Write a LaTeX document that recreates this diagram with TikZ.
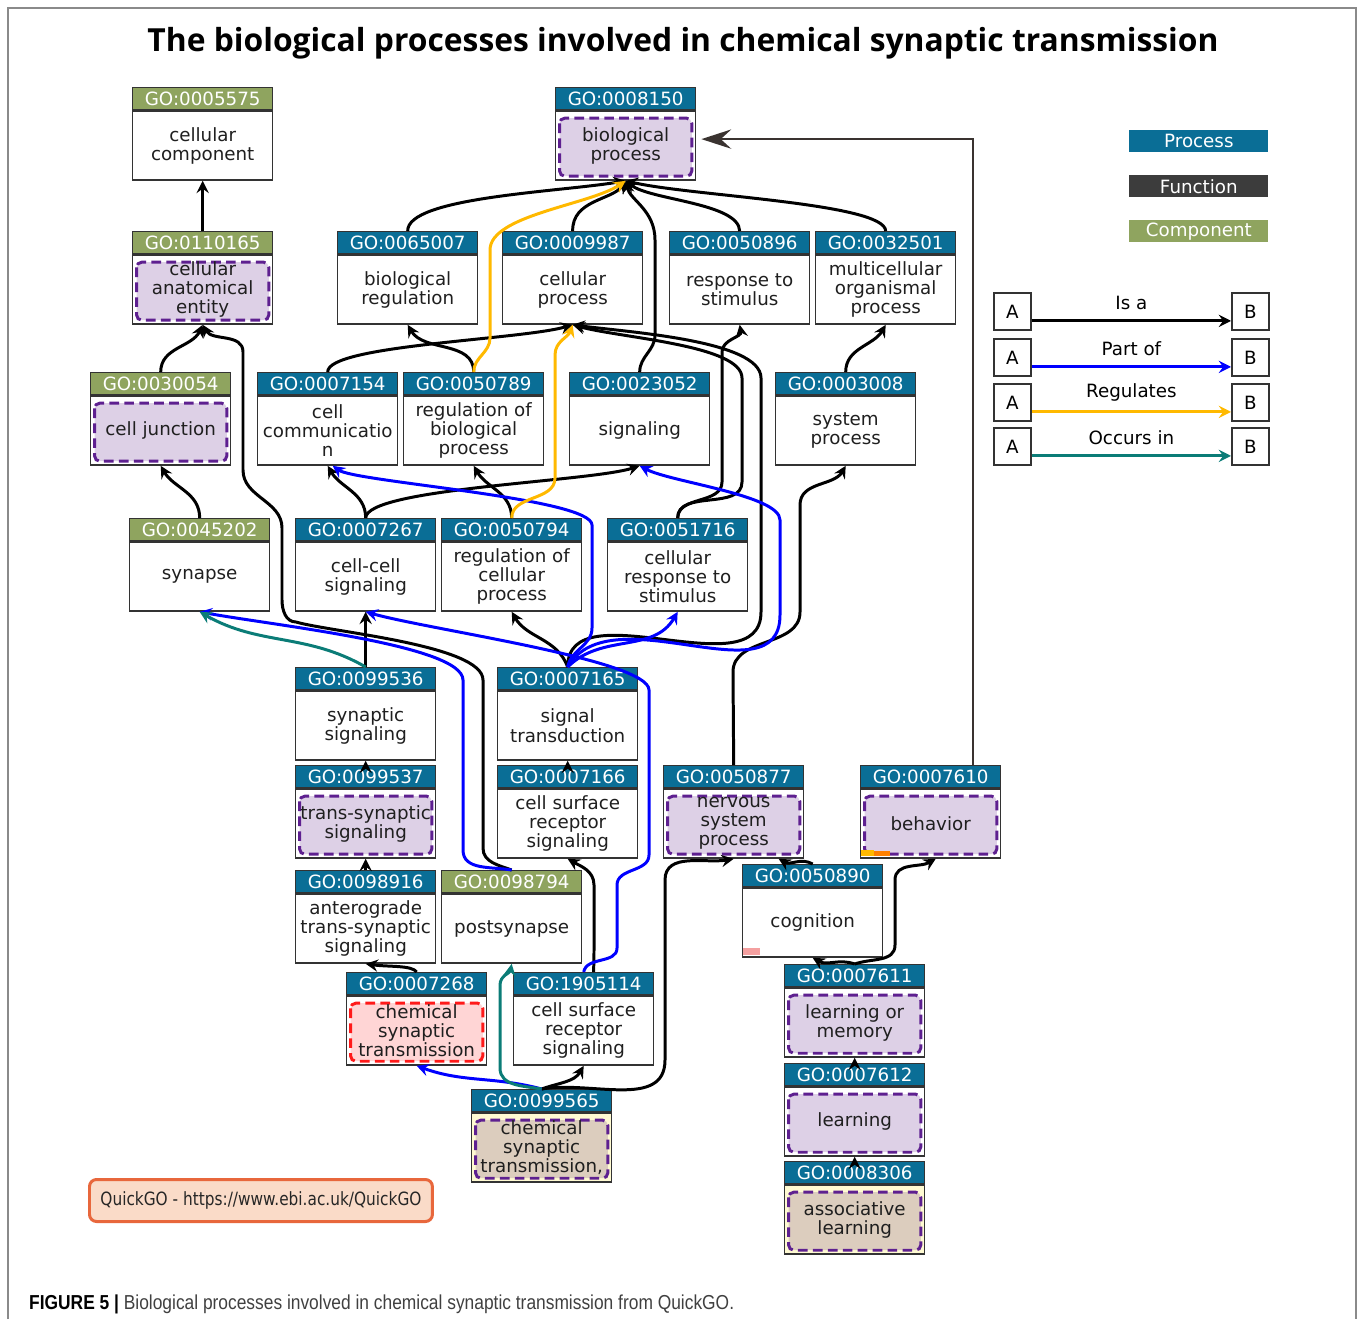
\documentclass[tikz,border=0pt]{standalone}
\usepackage{fontspec}
\setmainfont{DejaVu Sans}
\newfontfamily\titlefont{Open Sans}
\newfontfamily\capfont{Liberation Sans}
\usetikzlibrary{arrows.meta, positioning}
\definecolor{cproc}{HTML}{0A6E96}
\definecolor{ccomp}{HTML}{8FA45F}
\definecolor{cfunc}{HTML}{3C3C3C}
\definecolor{cline}{HTML}{333333}
\definecolor{cpurple}{HTML}{5E2090}
\definecolor{clav}{HTML}{DDD0E6}
\definecolor{cred}{HTML}{FF1A1A}
\definecolor{cpink}{HTML}{FFD5D5}
\definecolor{ctan}{HTML}{DCCDBE}
\definecolor{cpale}{HTML}{FFFAD2}
\definecolor{cpartof}{HTML}{0000FF}
\definecolor{creg}{HTML}{FFB900}
\definecolor{cocc}{HTML}{0B7C77}
\definecolor{cdark}{HTML}{3A3330}
\definecolor{cquick}{HTML}{E8673C}
\definecolor{cquickbg}{HTML}{FADBC8}
\definecolor{cframe}{HTML}{8A8A8A}
\definecolor{cmark}{HTML}{F4A0A0}
\tikzset{
  termfont/.style={font=\fontsize{10.4}{10.9}\selectfont},
  hdr/.style={termfont, draw=cline, line width=0.8pt, fill=#1, text=white, anchor=north west,
    minimum width=2.8cm, minimum height=0.44cm, inner sep=0pt},
  hdr/.default=cproc,
  body/.style={termfont, draw=cline, line width=0.8pt, fill=white, align=center, text=black!88,
    minimum width=2.8cm, minimum height=1.38cm, inner sep=0pt},
  sel/.style={path picture={\draw[#1]
     ([shift={(2.2pt,-4pt)}]path picture bounding box.north west) rectangle
     ([shift={(-2.2pt,2.2pt)}]path picture bounding box.south east);}},
  sel/.default=selline,
  selline/.style={draw=cpurple, fill=clav, line width=1.7pt, dash pattern=on 5.5pt off 3pt, rounded corners=3pt},
  redline/.style={selline, draw=cred, fill=cpink},
  tanline/.style={selline, fill=ctan},
  edgetip/.style={-{Stealth[length=7pt, width=7pt, inset=2.5pt]}, line width=1.7pt},
  isa/.style={edgetip, draw=black},
  partof/.style={edgetip, draw=cpartof},
  regul/.style={edgetip, draw=creg},
  occurs/.style={edgetip, draw=cocc},
  bigarrow/.style={-{Stealth[length=17pt, width=11pt, inset=6pt]}, draw=cdark, line width=1.2pt},
  legkey/.style={termfont, text=white, anchor=north west, minimum width=2.78cm, minimum height=0.44cm, inner sep=0pt},
  abox/.style={termfont, draw=cline, line width=1pt, anchor=north west, minimum size=0.74cm, inner sep=0pt},
}
% one GO term: header strip with the id, body below it
\newcommand{\goterm}[7]{%
  \node[hdr=#4] (#1h) at (#2,#3) {GO:#5};
  \node[body, #6, below=0pt of #1h] (#1) {#7};
}

\begin{document}
\begin{tikzpicture}[x=0.02cm, y=-0.02cm]
  \useasboundingbox (0,0) rectangle (1358,1319);
  \draw[cframe, line width=0.6pt] (8,1319) -- (8,8) -- (1356,8) -- (1356,1319);
  \node[font=\titlefont\bfseries\fontsize{18.1}{20}\selectfont] (title) at (683,43)
    {The biological processes involved in chemical synaptic transmission};

  % terms
  \goterm{c5575}{132}{87}{ccomp}{0005575}{}{cellular\\component}
  \goterm{p8150}{555}{87}{cproc}{0008150}{sel}{biological\\process}
  \goterm{c110165}{132}{231}{ccomp}{0110165}{sel}{cellular\\anatomical\\entity}
  \goterm{p65007}{337}{231}{cproc}{0065007}{}{biological\\regulation}
  \goterm{p9987}{502}{231}{cproc}{0009987}{}{cellular\\process}
  \goterm{p50896}{669}{231}{cproc}{0050896}{}{response to\\stimulus}
  \goterm{p32501}{815}{231}{cproc}{0032501}{}{multicellular\\organismal\\process}
  \goterm{c30054}{90}{372}{ccomp}{0030054}{sel}{cell junction}
  \goterm{p7154}{257}{372}{cproc}{0007154}{}{cell\\communicatio\\n}
  \goterm{p50789}{403}{372}{cproc}{0050789}{}{regulation of\\biological\\process}
  \goterm{p23052}{569}{372}{cproc}{0023052}{}{signaling}
  \goterm{p3008}{775}{372}{cproc}{0003008}{}{system\\process}
  \goterm{c45202}{129}{518}{ccomp}{0045202}{}{synapse}
  \goterm{p7267}{295}{518}{cproc}{0007267}{}{cell-cell\\signaling}
  \goterm{p50794}{441}{518}{cproc}{0050794}{}{regulation of\\cellular\\process}
  \goterm{p51716}{607}{518}{cproc}{0051716}{}{cellular\\response to\\stimulus}
  \goterm{p99536}{295}{667}{cproc}{0099536}{}{synaptic\\signaling}
  \goterm{p7165}{497}{667}{cproc}{0007165}{}{signal\\transduction}
  \goterm{p99537}{295}{765}{cproc}{0099537}{sel}{trans-synaptic\\signaling}
  \goterm{p7166}{497}{765}{cproc}{0007166}{}{cell surface\\receptor\\signaling}
  \goterm{p50877}{663}{765}{cproc}{0050877}{sel}{nervous\\system\\process}
  \goterm{p7610}{860}{765}{cproc}{0007610}{sel}{behavior}
  \goterm{p98916}{295}{870}{cproc}{0098916}{}{anterograde\\trans-synaptic\\signaling}
  \goterm{c98794}{441}{870}{ccomp}{0098794}{}{postsynapse}
  \goterm{p50890}{742}{864}{cproc}{0050890}{}{cognition}
  \goterm{p7268}{346}{972}{cproc}{0007268}{sel=redline}{chemical\\synaptic\\transmission}
  \goterm{p1905114}{513}{972}{cproc}{1905114}{}{cell surface\\receptor\\signaling}
  \goterm{p7611}{784}{964}{cproc}{0007611}{sel}{learning or\\memory}
  \goterm{p99565}{471}{1089}{cproc}{0099565}{sel=tanline, fill=cpale}{chemical\\synaptic\\transmission,}
  \goterm{p7612}{784}{1063}{cproc}{0007612}{sel}{learning}
  \goterm{p8306}{784}{1161}{cproc}{0008306}{sel=tanline, fill=cpale}{associative\\learning}

  % is a
  \draw[isa] (c110165h.north) -- (c5575.south);
  \draw[isa] (c30054h.north) to[out=90,in=-115] (c110165.south);
  \draw[isa] (c98794h.north) to[out=160,in=-90] (483,848) -- (483,680) .. controls (483,645) and (330,632) .. (296,622)
    to[out=180,in=-90] (282,600) -- (282,528) to[out=90,in=-90] (243,470) -- (243,352) to[out=90,in=-60] (c110165.south);
  \draw[isa] (c45202h.north) to[out=90,in=-60] (c30054.south);
  \draw[isa] (p65007h.north) .. controls (407,197) and (560,192) .. (p8150.south);
  \draw[isa] (p9987h.north) .. controls (572,200) and (612,200) .. (p8150.south);
  \draw[isa] (p50896h.north) .. controls (739,203) and (650,200) .. (p8150.south);
  \draw[isa] (p32501h.north) .. controls (885,203) and (690,196) .. (p8150.south);
  \draw[isa] (p23052h.north) to[out=90,in=-90] (655,335) -- (655,240) .. controls (655,210) and (630,200) .. (p8150.south);
  \draw[isa] (p50789h.north) to[out=90,in=-60] (p65007.south);
  \draw[isa] (p7154h.north) .. controls (327,345) and (520,340) .. (p9987.south);
  \draw[isa] (p7267h.north) to[out=90,in=-60] (p7154.south);
  \draw[isa] (p7267h.north) .. controls (366,488) and (590,482) .. (p23052.south);
  \draw[isa] (p50794h.north) to[out=90,in=-60] (p50789.south);
  \draw[isa] (p51716h.north) to[out=90,in=-90] (722,482) -- (722,352) to[out=90,in=-80] (p50896.south);
  \draw[isa] (p51716h.north) to[out=90,in=-90] (742,482) -- (742,378) .. controls (742,345) and (620,338) .. (p9987.south);
  \draw[isa] (p7165h.north) to[out=90,in=-90] (761,612) -- (761,378) .. controls (761,340) and (625,332) .. (p9987.south);
  \draw[isa] (p99536h.north) -- (p7267.south);
  \draw[isa] (p99537h.north) -- (p99536.south);
  \draw[isa] (p98916h.north) -- (p99537.south);
  \draw[isa] (p7166h.north) -- (p7165.south);
  \draw[isa] (p7165h.north) to[out=110,in=-60] (p50794.south);
  \draw[isa] (p7268h.north) .. controls (412,965) and (388,967) .. (p98916.south);
  \draw[isa] ([xshift=0.2cm]p1905114h.north) to[out=90,in=-90] (594,950) -- (594,885) to[out=90,in=-30] (p7166.south);
  \draw[isa] (p99565h.north) to[out=20,in=-120] (p1905114.south);
  \draw[isa] (p99565h.north) to[out=10,in=-90] (665,1060) -- (665,880) to[out=90,in=-170] (p50877.south);
  \draw[isa] (p50877h.north) -- (733,672) to[out=90,in=-90] (800,612) -- (800,505) to[out=90,in=-120] (p3008.south);
  \draw[isa] (p3008h.north) to[out=90,in=-120] (p32501.south);
  \draw[isa] (p50890h.north) to[out=150,in=-30] ([xshift=0.9cm]p50877.south);
  \draw[isa] (p7611h.north) to[out=160,in=-30] (p50890.south);
  \draw[isa] (p7611h.north) to[out=20,in=-90] (895,945) -- (895,880) to[out=90,in=-150] ([xshift=0.1cm]p7610.south);
  \draw[isa] (p7612h.north) -- (p7611.south);
  \draw[isa] (p8306h.north) -- (p7612.south);
  \draw[bigarrow] ([xshift=0.84cm]p7610h.north) |- ([shift={(0.1cm,0.13cm)}]p8150.east);

  % part of
  \draw[partof] (c98794h.north) to[out=170,in=-90] (463,850) -- (463,680) .. controls (463,645) and (270,625) .. (c45202.south);
  \draw[partof] (p7165h.north) to[out=80,in=-90] (592,628) -- (592,525) .. controls (592,498) and (355,482) .. ([xshift=0.1cm]p7154.south);
  \draw[partof] (p7165h.north) to[out=60,in=-90] (780,615) -- (780,520) .. controls (780,495) and (670,482) .. (p23052.south);
  \draw[partof] (p7165h.north) to[out=45,in=-120] (p51716.south);
  \draw[partof] (p1905114h.north) to[out=80,in=-90] (617,948) -- (617,885) to[out=90,in=-90] (649,855)
    -- (649,690) .. controls (649,660) and (430,630) .. (p7267.south);
  \draw[partof] (p99565h.north) to[out=165,in=-20] (p7268.south);

  % regulates
  \draw[regul] (p50789h.north) to[out=90,in=-90] (490,338) -- (490,250) .. controls (490,215) and (590,205) .. (p8150.south);
  \draw[regul] (p50794h.north) to[out=90,in=-90] (555,478) -- (555,355) to[out=90,in=-110] (p9987.south);

  % occurs in
  \draw[occurs] (p99536h.north) to[out=150,in=-30] (c45202.south);
  \draw[occurs] (p99565h.north) to[out=170,in=-90] (500,1068) -- (500,985) to[out=90,in=-100] (c98794.south);

  % small colour marks
  \fill[cmark] (743,948) rectangle (760,955);
  \fill[creg] (861,850) rectangle (874,856);
  \fill[orange] (874,851) rectangle (890,856);

  % legend
  \node[legkey, fill=cproc] (kproc) at (1129,130) {Process};
  \node[legkey, fill=cfunc] (kfunc) at (1129,175) {Function};
  \node[legkey, fill=ccomp] (kcomp) at (1129,220) {Component};
  \foreach \i/\y/\rel/\txt in {1/292/isa/Is a, 2/338/partof/Part of, 3/383/regul/Regulates, 4/427/occurs/Occurs in} {
    \node[abox] (la\i) at (993,\y) {A};
    \node[abox] (lb\i) at (1231,\y) {B};
    \draw[\rel] ([yshift=-0.19cm]la\i.east) -- node[above=2pt, termfont, text=black] {\txt} ([yshift=-0.19cm]lb\i.west);
  }

  \node[draw=cquick, fill=cquickbg, line width=1.7pt, rounded corners=4pt, anchor=north west,
    minimum width=6.86cm, minimum height=0.84cm, inner sep=0pt, font=\fontsize{10.4}{12}\selectfont, text=black!85]
    (quick) at (88,1178) {\scalebox{0.84}[1]{QuickGO - https://www.ebi.ac.uk/QuickGO}};
  \node[anchor=west, font=\capfont\fontsize{11.5}{13}\selectfont, text=black!75] (caption) at (23,1304)
    {\scalebox{0.86}[1]{\textbf{\color{black}FIGURE 5 |} Biological processes involved in chemical synaptic transmission from QuickGO.}};
\end{tikzpicture}
\end{document}
